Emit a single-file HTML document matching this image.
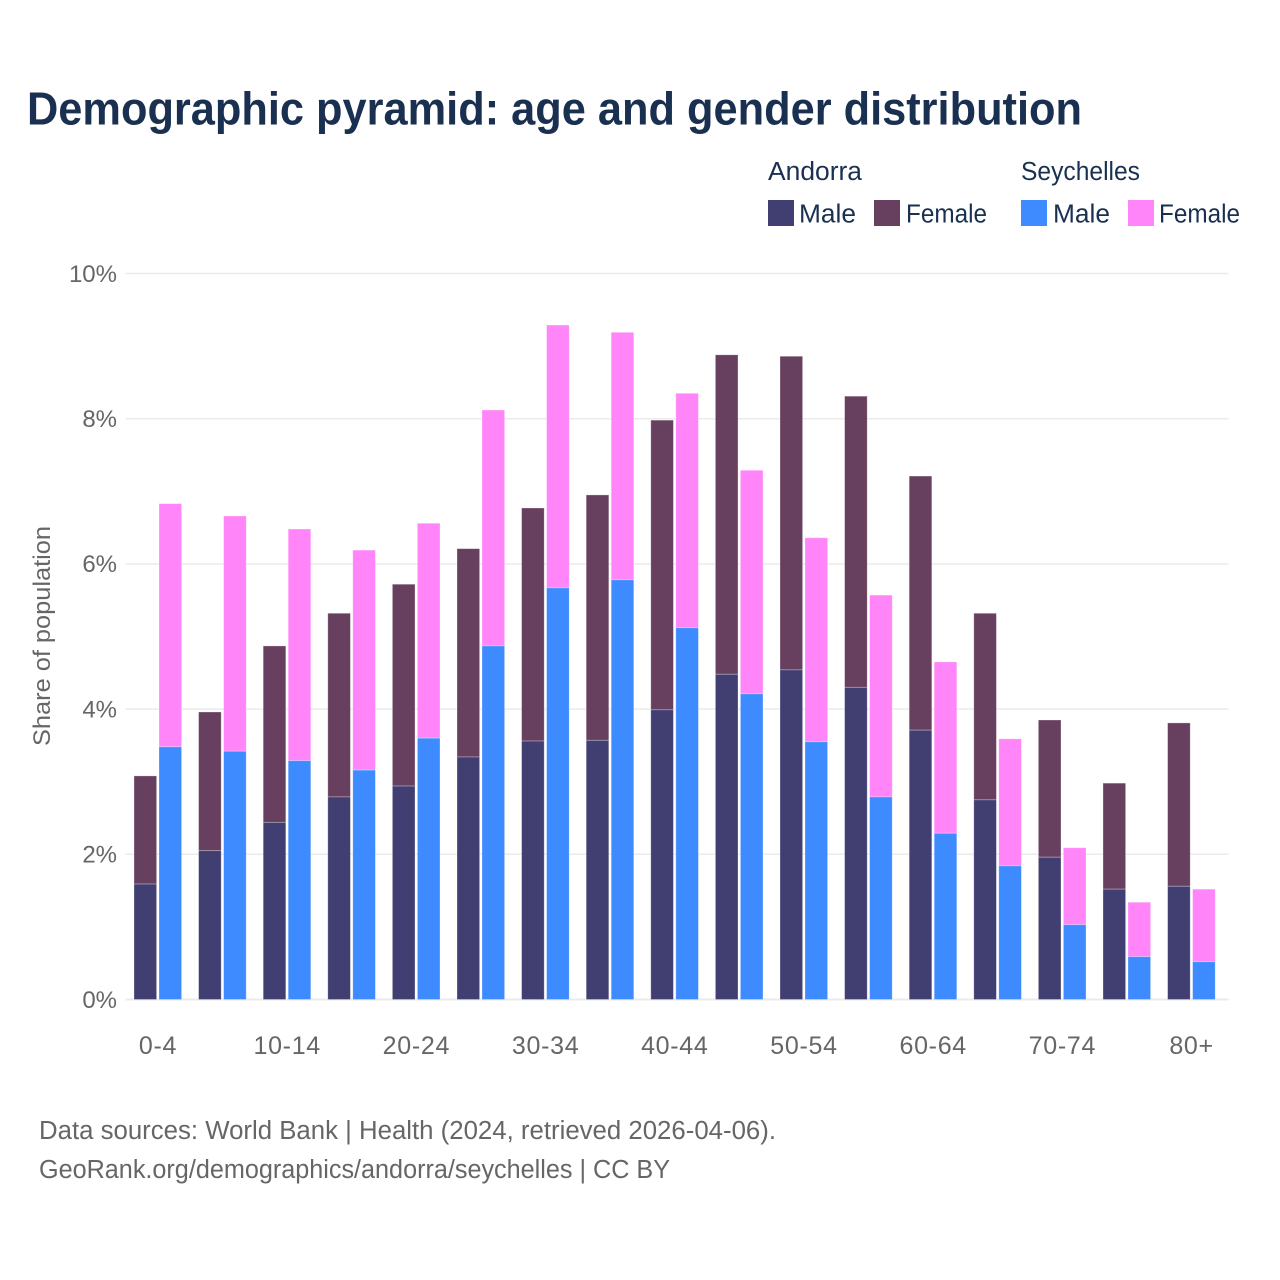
<!DOCTYPE html>
<html lang="en">
<head>
<meta charset="utf-8">
<title>Demographic pyramid</title>
<style>
html,body{margin:0;padding:0;background:#fff;width:1280px;height:1280px;overflow:hidden}
svg{display:block}
text{font-family:"Liberation Sans",sans-serif}
</style>
</head>
<body>
<svg id="chart" xmlns="http://www.w3.org/2000/svg" width="1280" height="1280" viewBox="0 0 1280 1280">
  <rect width="1280" height="1280" fill="#fff"/>
  <text x="27" y="124.5" font-size="46" font-weight="700" fill="#1a3050" textLength="1055" lengthAdjust="spacingAndGlyphs">Demographic pyramid: age and gender distribution</text>

  <g font-size="25.5" fill="#1a3050">
    <text x="768" y="180" textLength="94" lengthAdjust="spacingAndGlyphs">Andorra</text>
    <text x="1021" y="180" textLength="119" lengthAdjust="spacingAndGlyphs">Seychelles</text>
    <rect x="768" y="200" width="26" height="26" fill="#413f71"/>
    <text x="799" y="222.5" textLength="57" lengthAdjust="spacingAndGlyphs">Male</text>
    <rect x="874" y="200" width="26" height="26" fill="#68405f"/>
    <text x="906" y="222.5" textLength="81" lengthAdjust="spacingAndGlyphs">Female</text>
    <rect x="1021" y="200" width="26" height="26" fill="#3e8aff"/>
    <text x="1053" y="222.5" textLength="57" lengthAdjust="spacingAndGlyphs">Male</text>
    <rect x="1128" y="200" width="26" height="26" fill="#ff85f8"/>
    <text x="1159" y="222.5" textLength="81" lengthAdjust="spacingAndGlyphs">Female</text>
  </g>

  <g id="grid"></g>
  <g id="bars"></g>
  <g id="yticks"></g>
  <g id="xticks"></g>

  <text transform="translate(50,636) rotate(-90)" text-anchor="middle" font-size="24" fill="#666" textLength="220" lengthAdjust="spacingAndGlyphs">Share of population</text>

  <text x="39" y="1139" font-size="25.5" fill="#666" textLength="737" lengthAdjust="spacingAndGlyphs">Data sources: World Bank | Health (2024, retrieved 2026-04-06).</text>
  <text x="39" y="1178" font-size="25.5" fill="#666" textLength="631" lengthAdjust="spacingAndGlyphs">GeoRank.org/demographics/andorra/seychelles | CC BY</text>
</svg>
<script>
const categories = ["0-4","5-9","10-14","15-19","20-24","25-29","30-34","35-39","40-44","45-49","50-54","55-59","60-64","65-69","70-74","75-79","80+"];
const andorraMale = [1.59,2.05,2.44,2.79,2.94,3.34,3.56,3.57,3.99,4.48,4.54,4.30,3.71,2.75,1.96,1.52,1.56];
const andorraFemale = [1.49,1.91,2.43,2.53,2.78,2.87,3.21,3.38,3.99,4.40,4.32,4.01,3.50,2.57,1.89,1.46,2.25];
const seychellesMale = [3.48,3.42,3.29,3.16,3.60,4.87,5.67,5.78,5.12,4.21,3.55,2.79,2.29,1.84,1.03,0.59,0.52];
const seychellesFemale = [3.35,3.24,3.19,3.03,2.96,3.25,3.62,3.41,3.23,3.08,2.81,2.78,2.36,1.75,1.06,0.75,1.00];
const yTicks = [0,2,4,6,8,10];
const yTickLabels = ["0%","2%","4%","6%","8%","10%"];

const NS = "http://www.w3.org/2000/svg";
const plotLeft = 125.5, plotRight = 1228.5, plotBottom = 999.5, pxPerUnit = 72.6;
const bandStep = 64.6, firstCenter = 158;
function yScale(v){ return plotBottom - v * pxPerUnit; }
function xCenter(i){ return firstCenter + i * bandStep; }
function make(tag, attrs, parent){
  const el = document.createElementNS(NS, tag);
  for (const k in attrs) el.setAttribute(k, attrs[k]);
  parent.appendChild(el);
  return el;
}
const gridG = document.getElementById('grid');
const barsG = document.getElementById('bars');
const yG = document.getElementById('yticks');
const xG = document.getElementById('xticks');

yTicks.forEach(function(t, i){
  const line = make('line', {x1: plotLeft, x2: plotRight, y1: yScale(t), y2: yScale(t), stroke: '#ebebeb', 'stroke-width': i === 0 ? 2 : 1.5}, gridG);
  
  
  const label = make('text', {x: 117, y: yScale(t) + 8.3, 'text-anchor': 'end', 'font-size': 24, fill: '#666'}, yG);
  
  
  label.textContent = yTickLabels[i];
});

function stacked(x, lower, upper, lowerColor, upperColor){
  const w = 22.6;
  const y0 = yScale(lower);
  const y1 = yScale(lower + upper);
  const top = make('rect', {x: x, y: y1, width: w, height: y0 - y1, fill: upperColor, stroke: '#fff', 'stroke-opacity': 0.35, 'stroke-width': 0.8}, barsG);
  
  
  const bottom = make('rect', {x: x, y: y0, width: w, height: plotBottom - y0, fill: lowerColor, stroke: '#fff', 'stroke-opacity': 0.35, 'stroke-width': 0.8}, barsG);
  
  
}

categories.forEach(function(c, i){
  const cx = xCenter(i);
  stacked(cx - 24, andorraMale[i], andorraFemale[i], '#413f71', '#68405f');
  stacked(cx + 1, seychellesMale[i], seychellesFemale[i], '#3e8aff', '#ff85f8');
  if (i % 2 === 0) {
    const label = make('text', {x: cx, y: 1054, 'text-anchor': 'middle', 'font-size': 25, 'letter-spacing': 0.7, fill: '#666'}, xG);
    
    
    label.textContent = c;
  }
});
</script>
</body>
</html>
